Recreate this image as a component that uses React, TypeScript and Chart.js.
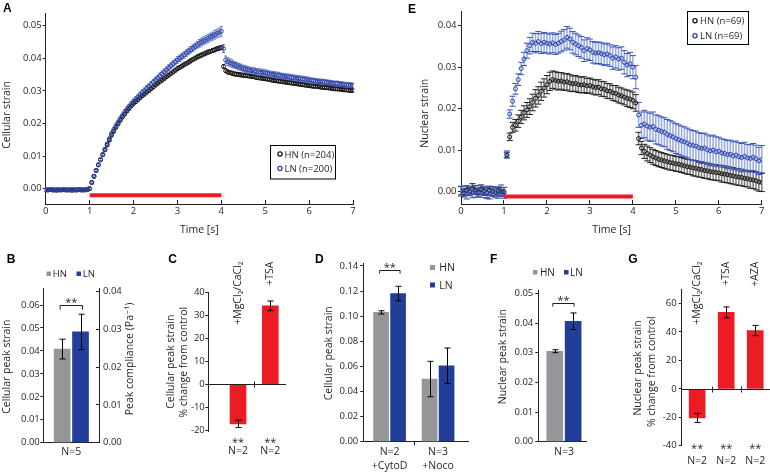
import React, { useEffect, useRef } from 'react';
import { Chart, registerables } from 'chart.js';

Chart.register(...registerables);

const W = 770;
const H = 472;
const FONT = '"Open Sans", "DejaVu Sans", sans-serif';
const LETTER_FONT = '"Liberation Sans", Arial, sans-serif';
const TXT = '#231f20';
const GRAY = '#959699';
const BLUE = '#213e98';
const RED = '#ec1c24';

// ---------------- Panel A: cellular strain vs time (sampled every 0.05 s) ----------------
const A_DT = 0.05;
const A_SERIES = ['HN (n=204)', 'LN (n=200)'];
const A_X_TICKS = [0, 1, 2, 3, 4, 5, 6, 7];
const A_Y_TICKS = [0, 0.01, 0.02, 0.03, 0.04, 0.05];
const STIM_T = [1, 4];
const A_STIM_Y = -0.002;

const A_HN = [
  -0.0004, -0.0004, -0.0003, -0.0004, -0.0004, -0.0005, -0.0004, -0.0004, -0.0003, -0.0004,
  -0.0004, -0.0004, -0.0005, -0.0004, -0.0004, -0.0003, -0.0004, -0.0004, -0.0004, -0.0003,
  0.0000, 0.0019, 0.0038, 0.0056, 0.0073, 0.0089, 0.0104, 0.0119, 0.0134, 0.0149,
  0.0164, 0.0176, 0.0188, 0.0199, 0.0210, 0.0220, 0.0229, 0.0238, 0.0246, 0.0254,
  0.0261, 0.0267, 0.0273, 0.0279, 0.0285, 0.0290, 0.0296, 0.0301, 0.0307, 0.0312,
  0.0318, 0.0323, 0.0328, 0.0333, 0.0338, 0.0343, 0.0348, 0.0353, 0.0358, 0.0363,
  0.0368, 0.0372, 0.0376, 0.0380, 0.0384, 0.0388, 0.0392, 0.0396, 0.0400, 0.0404,
  0.0407, 0.0410, 0.0413, 0.0416, 0.0419, 0.0421, 0.0424, 0.0426, 0.0429, 0.0431,
  0.0433,
  0.0375, 0.0362, 0.0358, 0.0356, 0.0354, 0.0352, 0.0351, 0.0350, 0.0349, 0.0348,
  0.0347, 0.0346, 0.0345, 0.0344, 0.0343, 0.0341, 0.0340, 0.0339, 0.0338, 0.0337,
  0.0336, 0.0335, 0.0333, 0.0332, 0.0331, 0.0330, 0.0329, 0.0328, 0.0327, 0.0326,
  0.0325, 0.0324, 0.0323, 0.0322, 0.0321, 0.0320, 0.0319, 0.0318, 0.0317, 0.0316,
  0.0315, 0.0314, 0.0314, 0.0313, 0.0312, 0.0311, 0.0310, 0.0310, 0.0309, 0.0308,
  0.0307, 0.0306, 0.0306, 0.0305, 0.0304, 0.0303, 0.0303, 0.0302, 0.0301, 0.0301,
];
const A_LN = [
  -0.0003, -0.0004, -0.0003, -0.0003, -0.0004, -0.0003, -0.0003, -0.0004, -0.0003, -0.0003,
  -0.0004, -0.0003, -0.0003, -0.0003, -0.0004, -0.0003, -0.0003, -0.0004, -0.0003, -0.0002,
  0.0000, 0.0019, 0.0038, 0.0056, 0.0073, 0.0089, 0.0105, 0.0121, 0.0137, 0.0153,
  0.0169, 0.0181, 0.0193, 0.0204, 0.0215, 0.0225, 0.0235, 0.0244, 0.0252, 0.0260,
  0.0267, 0.0274, 0.0281, 0.0288, 0.0295, 0.0301, 0.0308, 0.0314, 0.0320, 0.0327,
  0.0333, 0.0339, 0.0346, 0.0352, 0.0358, 0.0364, 0.0371, 0.0377, 0.0383, 0.0389,
  0.0395, 0.0400, 0.0405, 0.0410, 0.0416, 0.0421, 0.0426, 0.0431, 0.0436, 0.0441,
  0.0446, 0.0450, 0.0454, 0.0457, 0.0461, 0.0465, 0.0468, 0.0472, 0.0476, 0.0479,
  0.0483,
  0.0430, 0.0395, 0.0390, 0.0386, 0.0383, 0.0380, 0.0377, 0.0374, 0.0372, 0.0369,
  0.0367, 0.0365, 0.0363, 0.0362, 0.0361, 0.0359, 0.0358, 0.0357, 0.0356, 0.0355,
  0.0354, 0.0352, 0.0351, 0.0350, 0.0349, 0.0348, 0.0346, 0.0345, 0.0344, 0.0343,
  0.0342, 0.0341, 0.0340, 0.0339, 0.0338, 0.0337, 0.0336, 0.0335, 0.0334, 0.0333,
  0.0332, 0.0331, 0.0330, 0.0329, 0.0328, 0.0328, 0.0327, 0.0326, 0.0325, 0.0324,
  0.0323, 0.0322, 0.0322, 0.0321, 0.0320, 0.0319, 0.0318, 0.0318, 0.0317, 0.0316,
];
const A_HN_ERR = [
  0.0003, 0.0003, 0.0003, 0.0003, 0.0003, 0.0003, 0.0003, 0.0003, 0.0003, 0.0003,
  0.0003, 0.0003, 0.0003, 0.0003, 0.0003, 0.0003, 0.0003, 0.0003, 0.0003, 0.0003,
  0.0004, 0.0004, 0.0004, 0.0004, 0.0004, 0.0004, 0.0004, 0.0004, 0.0004, 0.0004,
  0.0004, 0.0004, 0.0004, 0.0004, 0.0004, 0.0004, 0.0004, 0.0004, 0.0004, 0.0004,
  0.0005, 0.0005, 0.0005, 0.0005, 0.0005, 0.0005, 0.0005, 0.0005, 0.0005, 0.0005,
  0.0005, 0.0005, 0.0005, 0.0005, 0.0005, 0.0005, 0.0005, 0.0005, 0.0005, 0.0005,
  0.0006, 0.0006, 0.0006, 0.0006, 0.0006, 0.0006, 0.0006, 0.0006, 0.0006, 0.0006,
  0.0006, 0.0006, 0.0006, 0.0006, 0.0006, 0.0006, 0.0006, 0.0006, 0.0006, 0.0006,
  0.0006,
  0.0006, 0.0006, 0.0006, 0.0006, 0.0006, 0.0006, 0.0006, 0.0006, 0.0006, 0.0006,
  0.0005, 0.0005, 0.0005, 0.0005, 0.0005, 0.0005, 0.0005, 0.0005, 0.0005, 0.0005,
  0.0005, 0.0005, 0.0005, 0.0005, 0.0005, 0.0005, 0.0005, 0.0005, 0.0005, 0.0005,
  0.0005, 0.0005, 0.0005, 0.0005, 0.0005, 0.0005, 0.0005, 0.0005, 0.0005, 0.0005,
  0.0005, 0.0005, 0.0005, 0.0005, 0.0005, 0.0005, 0.0005, 0.0005, 0.0005, 0.0005,
  0.0005, 0.0005, 0.0005, 0.0005, 0.0005, 0.0005, 0.0005, 0.0005, 0.0005, 0.0005,
];
const A_LN_ERR = [
  0.0004, 0.0004, 0.0004, 0.0004, 0.0004, 0.0004, 0.0004, 0.0004, 0.0004, 0.0004,
  0.0004, 0.0004, 0.0004, 0.0004, 0.0004, 0.0004, 0.0004, 0.0004, 0.0004, 0.0004,
  0.0005, 0.0005, 0.0005, 0.0005, 0.0005, 0.0005, 0.0005, 0.0005, 0.0005, 0.0005,
  0.0007, 0.0007, 0.0007, 0.0007, 0.0007, 0.0007, 0.0007, 0.0007, 0.0007, 0.0007,
  0.0008, 0.0008, 0.0008, 0.0008, 0.0008, 0.0008, 0.0008, 0.0008, 0.0008, 0.0008,
  0.0009, 0.0009, 0.0009, 0.0009, 0.0009, 0.0009, 0.0009, 0.0009, 0.0009, 0.0009,
  0.0010, 0.0010, 0.0010, 0.0010, 0.0010, 0.0010, 0.0010, 0.0010, 0.0010, 0.0010,
  0.0012, 0.0012, 0.0012, 0.0012, 0.0012, 0.0012, 0.0012, 0.0013, 0.0013, 0.0014,
  0.0015,
  0.0012, 0.0012, 0.0012, 0.0012, 0.0012, 0.0010, 0.0010, 0.0010, 0.0010, 0.0010,
  0.0010, 0.0010, 0.0010, 0.0010, 0.0010, 0.0010, 0.0010, 0.0010, 0.0010, 0.0010,
  0.0009, 0.0009, 0.0009, 0.0009, 0.0009, 0.0009, 0.0009, 0.0009, 0.0009, 0.0009,
  0.0009, 0.0009, 0.0009, 0.0009, 0.0009, 0.0009, 0.0009, 0.0009, 0.0009, 0.0009,
  0.0008, 0.0008, 0.0008, 0.0008, 0.0008, 0.0008, 0.0008, 0.0008, 0.0008, 0.0008,
  0.0008, 0.0008, 0.0008, 0.0008, 0.0008, 0.0008, 0.0008, 0.0008, 0.0008, 0.0008,
];

// ---------------- Panel E: nuclear strain vs time (sampled every 1/15 s) ----------------
const E_DT = 1 / 15;
const E_SERIES = ['HN (n=69)', 'LN (n=69)'];
const E_X_TICKS = [0, 1, 2, 3, 4, 5, 6, 7];
const E_Y_TICKS = [0, 0.01, 0.02, 0.03, 0.04];
const E_STIM_Y = -0.0012;

const E_HN = [
  0.0002, -0.0004, 0.0003, 0.0000, 0.0007, 0.0004, -0.0002, 0.0005, 0.0001, -0.0003, 0.0003, 0.0000, -0.0002, 0.0001, -0.0001,
  0.0000, 0.0088, 0.0132, 0.0155, 0.0160, 0.0170, 0.0180, 0.0190, 0.0197, 0.0205, 0.0215, 0.0225, 0.0232, 0.0242, 0.0250,
  0.0258, 0.0266, 0.0270, 0.0268, 0.0266, 0.0267, 0.0264, 0.0265, 0.0262, 0.0260, 0.0261, 0.0258, 0.0257, 0.0258, 0.0255,
  0.0256, 0.0253, 0.0251, 0.0252, 0.0248, 0.0247, 0.0243, 0.0242, 0.0238, 0.0237, 0.0233, 0.0231, 0.0228, 0.0225, 0.0223,
  0.0220, 0.0214, 0.0128, 0.0105, 0.0097, 0.0092, 0.0088, 0.0084, 0.0081, 0.0078, 0.0076, 0.0074, 0.0072, 0.0070, 0.0069,
  0.0067, 0.0066, 0.0064, 0.0062, 0.0060, 0.0059, 0.0057, 0.0056, 0.0054, 0.0053, 0.0051, 0.0050, 0.0048, 0.0047, 0.0046,
  0.0045, 0.0043, 0.0042, 0.0041, 0.0039, 0.0038, 0.0036, 0.0035, 0.0034, 0.0032, 0.0031, 0.0029, 0.0028, 0.0026, 0.0023, 0.0022,
];
const E_LN = [
  0.0001, 0.0003, -0.0005, 0.0002, -0.0003, 0.0000, 0.0004, -0.0002, 0.0003, -0.0004, -0.0006, 0.0001, -0.0002, -0.0004, 0.0002,
  -0.0003, 0.0090, 0.0187, 0.0218, 0.0248, 0.0270, 0.0297, 0.0320, 0.0340, 0.0352, 0.0360, 0.0358, 0.0362, 0.0357, 0.0360,
  0.0358, 0.0356, 0.0359, 0.0355, 0.0358, 0.0362, 0.0366, 0.0372, 0.0368, 0.0360, 0.0356, 0.0352, 0.0348, 0.0340, 0.0345,
  0.0342, 0.0336, 0.0334, 0.0335, 0.0333, 0.0330, 0.0332, 0.0328, 0.0322, 0.0325, 0.0320, 0.0322, 0.0312, 0.0305, 0.0308,
  0.0300, 0.0276, 0.0185, 0.0160, 0.0163, 0.0158, 0.0155, 0.0157, 0.0150, 0.0148, 0.0145, 0.0143, 0.0138, 0.0135, 0.0132,
  0.0128, 0.0125, 0.0122, 0.0120, 0.0117, 0.0113, 0.0111, 0.0110, 0.0106, 0.0104, 0.0105, 0.0101, 0.0098, 0.0100, 0.0096,
  0.0097, 0.0093, 0.0092, 0.0089, 0.0090, 0.0086, 0.0088, 0.0084, 0.0082, 0.0085, 0.0081, 0.0080, 0.0083, 0.0079, 0.0074, 0.0078,
];
const E_HN_ERR = [
  0.0010, 0.0009, 0.0011, 0.0010, 0.0012, 0.0010, 0.0009, 0.0011, 0.0010, 0.0012, 0.0010, 0.0011, 0.0009, 0.0010, 0.0011,
  0.0010, 0.0007, 0.0009, 0.0012, 0.0014, 0.0015, 0.0016, 0.0017, 0.0018, 0.0019, 0.0020, 0.0021, 0.0021, 0.0022, 0.0022,
  0.0022, 0.0022, 0.0021, 0.0021, 0.0021, 0.0020, 0.0020, 0.0020, 0.0020, 0.0019, 0.0019, 0.0019, 0.0019, 0.0019, 0.0018,
  0.0018, 0.0018, 0.0018, 0.0018, 0.0018, 0.0018, 0.0018, 0.0018, 0.0018, 0.0019, 0.0019, 0.0019, 0.0019, 0.0020, 0.0020,
  0.0020, 0.0020, 0.0015, 0.0016, 0.0017, 0.0018, 0.0018, 0.0018, 0.0018, 0.0018, 0.0018, 0.0018, 0.0018, 0.0018, 0.0018,
  0.0018, 0.0018, 0.0018, 0.0018, 0.0018, 0.0018, 0.0019, 0.0019, 0.0019, 0.0019, 0.0019, 0.0019, 0.0019, 0.0019, 0.0019,
  0.0019, 0.0020, 0.0020, 0.0020, 0.0020, 0.0020, 0.0020, 0.0020, 0.0020, 0.0020, 0.0020, 0.0021, 0.0021, 0.0022, 0.0022, 0.0022,
];
const E_LN_ERR = [
  0.0012, 0.0010, 0.0013, 0.0011, 0.0012, 0.0014, 0.0011, 0.0012, 0.0010, 0.0013, 0.0012, 0.0011, 0.0013, 0.0012, 0.0014,
  0.0013, 0.0008, 0.0010, 0.0012, 0.0013, 0.0014, 0.0015, 0.0016, 0.0018, 0.0020, 0.0022, 0.0023, 0.0024, 0.0024, 0.0024,
  0.0024, 0.0024, 0.0024, 0.0024, 0.0024, 0.0025, 0.0025, 0.0026, 0.0026, 0.0026, 0.0026, 0.0026, 0.0026, 0.0026, 0.0026,
  0.0026, 0.0026, 0.0026, 0.0026, 0.0026, 0.0026, 0.0026, 0.0026, 0.0027, 0.0027, 0.0027, 0.0027, 0.0028, 0.0028, 0.0028,
  0.0028, 0.0028, 0.0030, 0.0032, 0.0033, 0.0034, 0.0034, 0.0035, 0.0035, 0.0035, 0.0035, 0.0035, 0.0036, 0.0036, 0.0036,
  0.0036, 0.0036, 0.0036, 0.0036, 0.0036, 0.0036, 0.0036, 0.0036, 0.0036, 0.0036, 0.0036, 0.0036, 0.0036, 0.0036, 0.0036,
  0.0034, 0.0034, 0.0034, 0.0034, 0.0034, 0.0034, 0.0034, 0.0034, 0.0034, 0.0034, 0.0033, 0.0033, 0.0033, 0.0033, 0.0033, 0.0033,
];

// ---------------- Panel B ----------------
const B_GROUPS = ['N=5'];
const B_HN = [0.0408];
const B_HN_ERR = [0.0043];
const B_LN = [0.0483];
const B_LN_ERR = [0.0077];
const B_Y_TICKS = [0, 0.01, 0.02, 0.03, 0.04, 0.05, 0.06];
const B_Y2_TICKS = [0, 0.01, 0.02, 0.03, 0.04];
const B_SIG_Y = 0.06;

// ---------------- Panel C ----------------
const C_LABELS = ['+MgCl₂/CaCl₂', '+TSA'];
const C_VALUES = [-17.3, 34.3];
const C_ERR = [1.6, 2.1];
const C_N = ['N=2', 'N=2'];
const C_Y_TICKS = [-20, -10, 0, 10, 20, 30, 40];

// ---------------- Panel D ----------------
const D_GROUPS = [['N=2', '+CytoD'], ['N=3', '+Noco']];
const D_HN = [0.1030, 0.0499];
const D_HN_ERR = [0.0013, 0.0141];
const D_LN = [0.1180, 0.0605];
const D_LN_ERR = [0.0058, 0.0141];
const D_Y_TICKS = [0, 0.02, 0.04, 0.06, 0.08, 0.1, 0.12, 0.14];
const D_SIG_Y = 0.1365;

// ---------------- Panel F ----------------
const F_GROUPS = ['N=3'];
const F_HN = [0.0305];
const F_HN_ERR = [0.0005];
const F_LN = [0.0406];
const F_LN_ERR = [0.0028];
const F_Y_TICKS = [0, 0.01, 0.02, 0.03, 0.04, 0.05];
const F_SIG_Y = 0.0468;

// ---------------- Panel G ----------------
const G_LABELS = ['+MgCl₂/CaCl₂', '+TSA', '+AZA'];
const G_VALUES = [-20.5, 53.8, 41.0];
const G_ERR = [3.2, 3.8, 3.6];
const G_N = ['N=2', 'N=2', 'N=2'];
const G_Y_TICKS = [-40, -20, 0, 20, 40, 60];

// ---------------- helpers ----------------
type TOpt = {
  size?: number;
  align?: CanvasTextAlign;
  base?: CanvasTextBaseline;
  bold?: boolean;
  rot?: number;
  family?: string;
  color?: string;
};

function txt(ctx: CanvasRenderingContext2D, s: string, x: number, y: number, o: TOpt = {}) {
  ctx.save();
  ctx.translate(x, y);
  if (o.rot) ctx.rotate(o.rot);
  ctx.font = `${o.bold ? 'bold ' : ''}${o.size ?? 10.5}px ${o.family ?? FONT}`;
  ctx.fillStyle = o.color ?? TXT;
  ctx.textAlign = o.align ?? 'center';
  ctx.textBaseline = o.base ?? 'alphabetic';
  ctx.fillText(s, 0, 0);
  ctx.restore();
}

function letter(ctx: CanvasRenderingContext2D, s: string, x: number, y: number) {
  txt(ctx, s, x, y, { size: 12, bold: true, align: 'left', family: LETTER_FONT, color: '#000' });
}

const UP = -Math.PI / 2;

function pad(L: number, R: number, T: number, B: number, lw = 40, rw = 0, xh = 0) {
  return { padding: { left: L - lw, right: W - R - rw, top: T, bottom: H - B - xh } };
}

const tickFont = { family: FONT, size: 9.5 };

function yAxis(min: number, max: number, ticks: number[], dec: number, pos = 'left', tl = 3, padding = 1, width = 40) {
  return {
    type: 'linear',
    position: pos,
    min,
    max,
    afterBuildTicks: (s: any) => {
      s.ticks = ticks.map((v) => ({ value: v }));
    },
    afterFit: (s: any) => {
      s.width = width;
    },
    ticks: {
      autoSkip: false,
      padding,
      color: TXT,
      font: tickFont,
      callback: (v: any) => Number(v).toFixed(dec),
    },
    grid: { display: true, drawOnChartArea: false, drawTicks: true, tickLength: tl, color: TXT, lineWidth: 1 },
    border: { display: true, color: TXT, width: 1 },
  };
}

function timeAxis(ticks: number[]) {
  return {
    type: 'linear',
    min: 0,
    max: 7,
    afterBuildTicks: (s: any) => {
      s.ticks = ticks.map((v) => ({ value: v }));
    },
    afterFit: (s: any) => {
      s.height = 20;
    },
    ticks: {
      autoSkip: false,
      maxRotation: 0,
      minRotation: 0,
      padding: 5.5,
      color: TXT,
      font: tickFont,
      callback: (v: any) => String(v),
    },
    grid: { display: true, drawOnChartArea: false, drawTicks: true, tickLength: -4, color: TXT, lineWidth: 1 },
    border: { display: true, color: TXT, width: 1 },
  };
}

function barXAxis(min: number, max: number, show: boolean) {
  return {
    type: 'linear',
    min,
    max,
    offset: false,
    display: show,
    afterFit: (s: any) => {
      s.height = 0;
    },
    ticks: { display: false },
    grid: { display: false, drawTicks: false, offset: false },
    border: { display: true, color: TXT, width: 1 },
  };
}

function barSet(label: string, values: number[], errs: number[], color: string, offset: number, thick: number) {
  return {
    label,
    data: values.map((v, i) => ({ x: i + offset, y: v })),
    err: errs,
    backgroundColor: color,
    borderWidth: 0,
    barThickness: thick,
    grouped: false,
  };
}

const barErrPlugin = {
  id: 'barErr',
  afterDatasetsDraw(chart: any) {
    const ctx = chart.ctx as CanvasRenderingContext2D;
    const ys = chart.scales.y;
    ctx.save();
    ctx.strokeStyle = '#000';
    ctx.lineWidth = 1;
    chart.data.datasets.forEach((ds: any, di: number) => {
      if (!ds.err) return;
      const meta = chart.getDatasetMeta(di);
      meta.data.forEach((el: any, i: number) => {
        const v = ds.data[i].y;
        const e = ds.err[i];
        const x = Math.round(el.x) + 0.5;
        const y1 = ys.getPixelForValue(v + e);
        const y2 = ys.getPixelForValue(v - e);
        ctx.beginPath();
        ctx.moveTo(x, y1);
        ctx.lineTo(x, y2);
        ctx.moveTo(x - 3, y1);
        ctx.lineTo(x + 3, y1);
        ctx.moveTo(x - 3, y2);
        ctx.lineTo(x + 3, y2);
        ctx.stroke();
      });
    });
    ctx.restore();
  },
};

function scatterErrPlugin(cap: number, lineW: number) {
  return {
    id: 'scatterErr',
    beforeDatasetsDraw(chart: any) {
      const ctx = chart.ctx as CanvasRenderingContext2D;
      const ys = chart.scales.y;
      const sets = chart.data.datasets
        .map((ds: any, di: number) => ({ ds, di }))
        .filter((o: any) => o.ds.err)
        .sort((a: any, b: any) => b.ds.order - a.ds.order);
      ctx.save();
      sets.forEach(({ ds, di }: any) => {
        const meta = chart.getDatasetMeta(di);
        ctx.strokeStyle = ds.errFill;
        ctx.lineWidth = lineW;
        ctx.beginPath();
        meta.data.forEach((el: any, i: number) => {
          const v = ds.data[i].y;
          const e = ds.err[i];
          ctx.moveTo(el.x, ys.getPixelForValue(v + e));
          ctx.lineTo(el.x, ys.getPixelForValue(v - e));
        });
        ctx.stroke();
        ctx.strokeStyle = ds.errCap;
        ctx.lineWidth = 1;
        ctx.beginPath();
        meta.data.forEach((el: any, i: number) => {
          const v = ds.data[i].y;
          const e = ds.err[i];
          const y1 = ys.getPixelForValue(v + e);
          const y2 = ys.getPixelForValue(v - e);
          ctx.moveTo(el.x - cap, y1);
          ctx.lineTo(el.x + cap, y1);
          ctx.moveTo(el.x - cap, y2);
          ctx.lineTo(el.x + cap, y2);
        });
        ctx.stroke();
      });
      ctx.restore();
    },
  };
}

function seriesLegend(ctx: CanvasRenderingContext2D, chart: any, box: number[], cx: number, tx: number, rows: number[]) {
  ctx.save();
  ctx.fillStyle = '#fff';
  ctx.fillRect(box[0], box[1], box[2], box[3]);
  ctx.strokeStyle = '#000';
  ctx.lineWidth = 1;
  ctx.strokeRect(box[0], box[1], box[2], box[3]);
  const series = chart.data.datasets.filter((d: any) => d.err);
  series.forEach((ds: any, i: number) => {
    ctx.beginPath();
    ctx.arc(cx, rows[i], 2.1, 0, Math.PI * 2);
    ctx.strokeStyle = ds.borderColor;
    ctx.lineWidth = 1.3;
    ctx.stroke();
    txt(ctx, ds.label, tx, rows[i] + 3.5, { size: 9.5, align: 'left' });
  });
  ctx.restore();
}

function bracket(ctx: CanvasRenderingContext2D, x1: number, x2: number, y: number, drop: number) {
  ctx.save();
  ctx.strokeStyle = TXT;
  ctx.lineWidth = 1;
  ctx.beginPath();
  ctx.moveTo(x1, y + drop);
  ctx.lineTo(x1, y);
  ctx.lineTo(x2, y);
  ctx.lineTo(x2, y + drop);
  ctx.stroke();
  ctx.restore();
  txt(ctx, '**', (x1 + x2) / 2, y + 0.5, { size: 11 });
}

function hline(ctx: CanvasRenderingContext2D, x1: number, x2: number, y: number) {
  ctx.save();
  ctx.strokeStyle = TXT;
  ctx.lineWidth = 1;
  ctx.beginPath();
  ctx.moveTo(x1, y);
  ctx.lineTo(x2, y);
  ctx.stroke();
  ctx.restore();
}

function vline(ctx: CanvasRenderingContext2D, x: number, y1: number, y2: number) {
  ctx.save();
  ctx.strokeStyle = TXT;
  ctx.lineWidth = 1;
  ctx.beginPath();
  ctx.moveTo(x, y1);
  ctx.lineTo(x, y2);
  ctx.stroke();
  ctx.restore();
}

function square(ctx: CanvasRenderingContext2D, x: number, y: number, s: number, color: string) {
  ctx.save();
  ctx.fillStyle = color;
  ctx.fillRect(x, y, s, s);
  ctx.restore();
}

const baseOptions = {
  responsive: false,
  maintainAspectRatio: false,
  animation: false,
  events: [],
};
const noPlugins = { legend: { display: false }, tooltip: { enabled: false } };

function scatterSeries(label: string, vals: number[], errs: number[], dt: number, color: string, errFill: string, errCap: string, order: number, r: number) {
  return {
    label,
    data: vals.map((v, i) => ({ x: i * dt, y: v })),
    err: errs,
    errFill,
    errCap,
    borderColor: color,
    backgroundColor: 'rgba(0,0,0,0)',
    pointBackgroundColor: 'rgba(0,0,0,0)',
    pointBorderColor: color,
    pointBorderWidth: 1,
    pointRadius: r,
    order,
  };
}

// ---------------- panel builders ----------------
function buildA() {
  return {
    type: 'scatter',
    data: {
      datasets: [
        scatterSeries(A_SERIES[0], A_HN, A_HN_ERR, A_DT, '#141414', '#4d4d4d', '#3a3a3a', 2, 2),
        scatterSeries(A_SERIES[1], A_LN, A_LN_ERR, A_DT, '#2c3fa2', '#7d91d3', '#5e74c6', 1, 2),
        {
          label: 'stimulus',
          data: STIM_T.map((t) => ({ x: t, y: A_STIM_Y })),
          showLine: true,
          borderColor: RED,
          borderWidth: 4,
          pointRadius: 0,
          order: 0,
        },
      ],
    },
    options: {
      ...baseOptions,
      layout: pad(45.7, 353, 13, 204, 40, 0, 20),
      plugins: noPlugins,
      scales: { x: timeAxis(A_X_TICKS), y: yAxis(-0.0047, 0.0539, A_Y_TICKS, 2) },
    },
    plugins: [
      scatterErrPlugin(1.5, 1),
      {
        id: 'decoA',
        afterDraw(chart: any) {
          const ctx = chart.ctx;
          letter(ctx, 'A', 3, 11.7);
          txt(ctx, 'Time [s]', 199.3, 233);
          txt(ctx, 'Cellular strain', 7, 115, { rot: UP, base: 'middle' });
          seriesLegend(ctx, chart, [270.5, 145.5, 65, 33.5], 280, 284.5, [154, 168.5]);
        },
      },
    ],
  };
}

function buildE() {
  return {
    type: 'scatter',
    data: {
      datasets: [
        scatterSeries(E_SERIES[0], E_HN, E_HN_ERR, E_DT, '#141414', 'rgba(90,90,90,0.75)', '#1e1e1e', 2, 2),
        scatterSeries(E_SERIES[1], E_LN, E_LN_ERR, E_DT, '#2c44ab', 'rgba(120,145,215,0.75)', '#3550b5', 1, 2),
        {
          label: 'stimulus',
          data: STIM_T.map((t) => ({ x: t, y: E_STIM_Y })),
          showLine: true,
          borderColor: RED,
          borderWidth: 4,
          pointRadius: 0,
          order: 0,
        },
      ],
    },
    options: {
      ...baseOptions,
      layout: pad(461, 762.3, 11.7, 204, 40, 0, 20),
      plugins: noPlugins,
      scales: { x: timeAxis(E_X_TICKS), y: yAxis(-0.003, 0.0434, E_Y_TICKS, 2, 'left', 3, 1.5) },
    },
    plugins: [
      scatterErrPlugin(3, 1.6),
      {
        id: 'decoE',
        afterDraw(chart: any) {
          const ctx = chart.ctx;
          letter(ctx, 'E', 408, 13.3);
          txt(ctx, 'Time [s]', 611.7, 232.7);
          txt(ctx, 'Nuclear strain', 425, 113.3, { rot: UP, base: 'middle' });
          seriesLegend(ctx, chart, [687.5, 11.5, 61, 33], 695, 700, [20.7, 35.7]);
        },
      },
    ],
  };
}

function buildB() {
  return {
    type: 'bar',
    data: {
      datasets: [
        barSet('HN', B_HN, B_HN_ERR, GRAY, -0.165, 16),
        barSet('LN', B_LN, B_LN_ERR, BLUE, 0.165, 16),
      ],
    },
    options: {
      ...baseOptions,
      layout: pad(43.3, 99, 288.3, 442.7, 40, 30, 0),
      plugins: noPlugins,
      scales: {
        x: barXAxis(-0.503, 0.497, true),
        y: yAxis(0, 0.0673, B_Y_TICKS, 2, 'left', 3, 0.5),
        y2: yAxis(0, 0.0409, B_Y2_TICKS, 2, 'right', -3, 7, 30),
      },
    },
    plugins: [
      barErrPlugin,
      {
        id: 'decoB',
        afterDraw(chart: any) {
          const ctx = chart.ctx;
          const xs = chart.scales.x;
          const ys = chart.scales.y;
          letter(ctx, 'B', 6.7, 262.7);
          square(ctx, 46.5, 271.5, 4.5, GRAY);
          txt(ctx, 'HN', 52.7, 276.5, { size: 9.5, align: 'left' });
          square(ctx, 76.5, 271.5, 4.5, BLUE);
          txt(ctx, 'LN', 82.7, 276.5, { size: 9.5, align: 'left' });
          txt(ctx, 'Cellular peak strain', 6.7, 366.7, { rot: UP, base: 'middle' });
          txt(ctx, 'Peak compliance (Pa⁻¹)', 130, 359, { rot: UP, base: 'middle' });
          const g = chart.getDatasetMeta(0).data[0];
          const b = chart.getDatasetMeta(1).data[0];
          bracket(ctx, g.x - 2, b.x + 2, Math.round(ys.getPixelForValue(B_SIG_Y)) + 0.5, 4);
          B_GROUPS.forEach((s, i) => txt(ctx, s, xs.getPixelForValue(i), 455));
        },
      },
    ],
  };
}

function buildC() {
  return {
    type: 'bar',
    data: {
      datasets: [barSet('change', C_VALUES, C_ERR, RED, 0, 16)],
    },
    options: {
      ...baseOptions,
      layout: pad(208.3, 286, 292.1, 431.2, 40, 0, 0),
      plugins: noPlugins,
      scales: {
        x: barXAxis(-0.92, 1.486, false),
        y: yAxis(-20.5, 40.3, C_Y_TICKS, 0, 'left', 3, 0.5),
      },
    },
    plugins: [
      barErrPlugin,
      {
        id: 'decoC',
        afterDraw(chart: any) {
          const ctx = chart.ctx;
          const xs = chart.scales.x;
          const ys = chart.scales.y;
          const a = chart.chartArea;
          const y0 = Math.round(ys.getPixelForValue(0)) + 0.5;
          letter(ctx, 'C', 168.3, 262.7);
          hline(ctx, a.left, a.right, y0);
          for (let i = 0; i < C_VALUES.length - 1; i++) {
            vline(ctx, Math.round(xs.getPixelForValue(i + 0.5)) + 0.5, y0 - 3, y0 + 3);
          }
          txt(ctx, 'Cellular peak strain', 171.5, 361.7, { rot: UP, base: 'middle' });
          txt(ctx, '% change from control', 183.7, 362.3, { rot: UP, base: 'middle' });
          C_LABELS.forEach((s, i) => {
            const x = xs.getPixelForValue(i);
            txt(ctx, s, x, 261.5, { rot: UP, base: 'middle', align: 'right' });
            txt(ctx, '**', x, 446, { size: 11 });
            txt(ctx, C_N[i], x, 454);
          });
        },
      },
    ],
  };
}

function buildD() {
  return {
    type: 'bar',
    data: {
      datasets: [
        barSet('HN', D_HN, D_HN_ERR, GRAY, -0.175, 15),
        barSet('LN', D_LN, D_LN_ERR, BLUE, 0.175, 15),
      ],
    },
    options: {
      ...baseOptions,
      layout: pad(363.3, 468, 263.3, 441.7, 40, 0, 0),
      plugins: noPlugins,
      scales: {
        x: barXAxis(-0.542, 1.617, true),
        y: yAxis(0, 0.1421, D_Y_TICKS, 2, 'left', 3, 2),
      },
    },
    plugins: [
      barErrPlugin,
      {
        id: 'decoD',
        afterDraw(chart: any) {
          const ctx = chart.ctx;
          const xs = chart.scales.x;
          const ys = chart.scales.y;
          const a = chart.chartArea;
          letter(ctx, 'D', 315, 262.7);
          square(ctx, 430, 265, 5, GRAY);
          txt(ctx, 'HN', 439.3, 271, { size: 10.5, align: 'left' });
          square(ctx, 430, 282.5, 5, BLUE);
          txt(ctx, 'LN', 439.3, 288.5, { size: 10.5, align: 'left' });
          txt(ctx, 'Cellular peak strain', 329, 353.3, { rot: UP, base: 'middle' });
          const g = chart.getDatasetMeta(0).data[0];
          const b = chart.getDatasetMeta(1).data[0];
          bracket(ctx, g.x - 1.5, b.x + 2, Math.round(ys.getPixelForValue(D_SIG_Y)) + 0.5, 3);
          vline(ctx, Math.round(xs.getPixelForValue(0.5)) + 0.5, a.bottom, a.bottom + 3.5);
          D_GROUPS.forEach((lines, i) => {
            const x = xs.getPixelForValue(i);
            txt(ctx, lines[0], x, 455);
            txt(ctx, lines[1], x, 469);
          });
        },
      },
    ],
  };
}

function buildF() {
  return {
    type: 'bar',
    data: {
      datasets: [
        barSet('HN', F_HN, F_HN_ERR, GRAY, -0.19, 16),
        barSet('LN', F_LN, F_LN_ERR, BLUE, 0.19, 16),
      ],
    },
    options: {
      ...baseOptions,
      layout: pad(538.3, 586.7, 290.1, 441.7, 40, 0, 0),
      plugins: noPlugins,
      scales: {
        x: barXAxis(-0.53, 0.47, true),
        y: yAxis(0, 0.0511, F_Y_TICKS, 2, 'left', 3, 2),
      },
    },
    plugins: [
      barErrPlugin,
      {
        id: 'decoF',
        afterDraw(chart: any) {
          const ctx = chart.ctx;
          const xs = chart.scales.x;
          const ys = chart.scales.y;
          letter(ctx, 'F', 490, 262.7);
          square(ctx, 533, 270, 4.5, GRAY);
          txt(ctx, 'HN', 540, 275.7, { size: 10, align: 'left' });
          square(ctx, 564, 270, 4.5, BLUE);
          txt(ctx, 'LN', 570, 275.7, { size: 10, align: 'left' });
          txt(ctx, 'Nuclear peak strain', 503.3, 356.7, { rot: UP, base: 'middle' });
          const g = chart.getDatasetMeta(0).data[0];
          const b = chart.getDatasetMeta(1).data[0];
          bracket(ctx, g.x - 2, b.x + 1, Math.round(ys.getPixelForValue(F_SIG_Y)) + 0.5, 3);
          F_GROUPS.forEach((s, i) => txt(ctx, s, xs.getPixelForValue(i), 455));
        },
      },
    ],
  };
}

function buildG() {
  return {
    type: 'bar',
    data: {
      datasets: [barSet('change', G_VALUES, G_ERR, RED, 0, 16)],
    },
    options: {
      ...baseOptions,
      layout: pad(681.7, 770, 289.3, 445.7, 40, 0, 0),
      plugins: noPlugins,
      scales: {
        x: barXAxis(-0.533, 2.51, false),
        y: yAxis(-40, 70, G_Y_TICKS, 0, 'left', 3, 2),
      },
    },
    plugins: [
      barErrPlugin,
      {
        id: 'decoG',
        afterDraw(chart: any) {
          const ctx = chart.ctx;
          const xs = chart.scales.x;
          const ys = chart.scales.y;
          const a = chart.chartArea;
          const y0 = Math.round(ys.getPixelForValue(0)) + 0.5;
          letter(ctx, 'G', 628.3, 262.7);
          hline(ctx, a.left, a.right, y0);
          for (let i = 0; i < G_VALUES.length - 1; i++) {
            vline(ctx, Math.round(xs.getPixelForValue(i + 0.5)) + 0.5, y0 - 3, y0 + 3);
          }
          txt(ctx, 'Nuclear peak strain', 638.3, 368, { rot: UP, base: 'middle' });
          txt(ctx, '% change from control', 652, 371.7, { rot: UP, base: 'middle' });
          G_LABELS.forEach((s, i) => {
            const x = xs.getPixelForValue(i);
            txt(ctx, s, x, 261.5, { rot: UP, base: 'middle', align: 'right' });
            txt(ctx, '**', x, 451.5, { size: 11 });
            txt(ctx, G_N[i], x, 463.5);
          });
        },
      },
    ],
  };
}

const BUILDERS = [buildA, buildE, buildB, buildC, buildD, buildF, buildG];

function ChartCanvas({ build }: { build: () => any }) {
  const ref = useRef<HTMLCanvasElement>(null);
  useEffect(() => {
    if (!ref.current) return;
    const chart = new Chart(ref.current, build());
    return () => chart.destroy();
  }, [build]);
  return (
    <canvas
      ref={ref}
      width={W}
      height={H}
      style={{ position: 'absolute', left: 0, top: 0, width: W, height: H, pointerEvents: 'none' }}
    />
  );
}

export default function App() {
  return (
    <div
      style={{
        position: 'absolute',
        left: 0,
        top: 0,
        width: W,
        height: H,
        background: '#ffffff',
        overflow: 'hidden',
      }}
    >
      {BUILDERS.map((b, i) => (
        <ChartCanvas key={i} build={b} />
      ))}
    </div>
  );
}
